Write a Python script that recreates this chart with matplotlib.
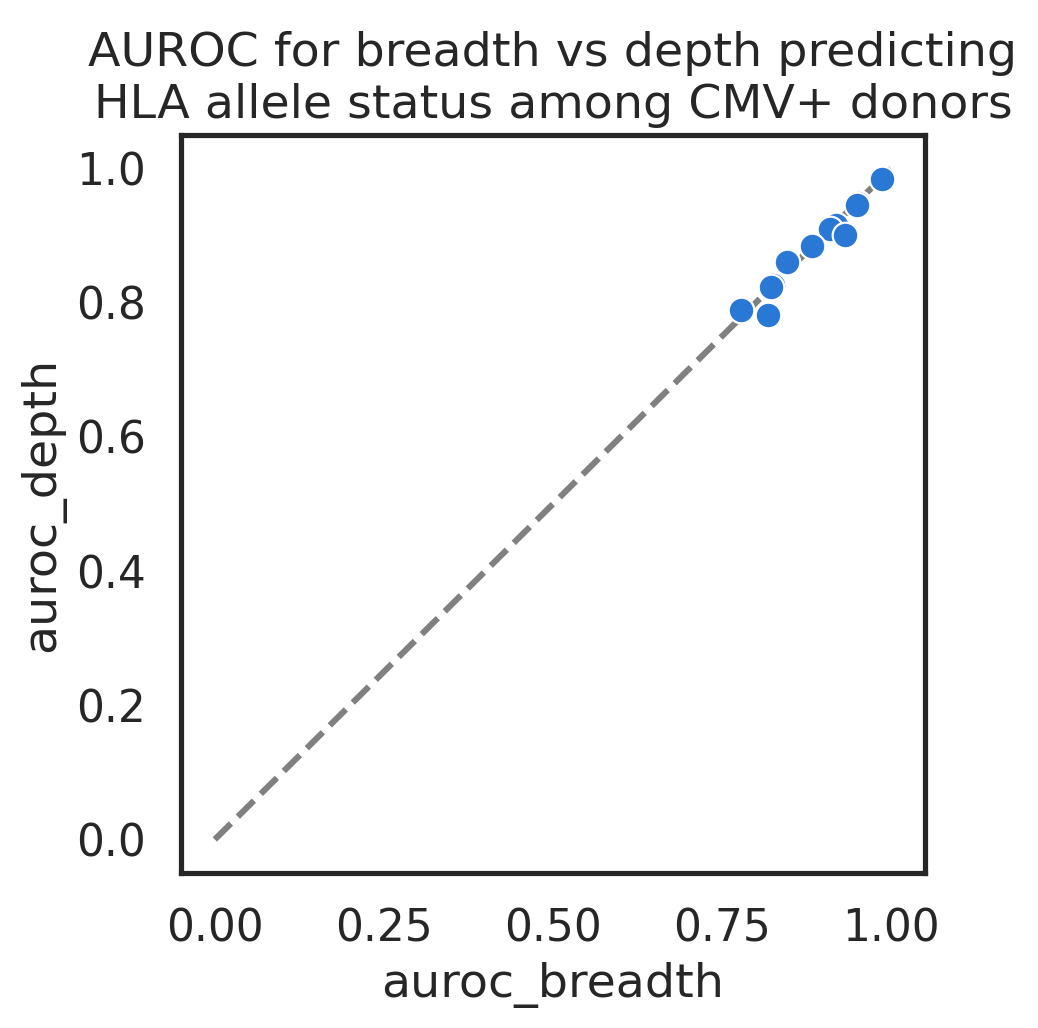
import matplotlib
matplotlib.use('Agg')
from matplotlib import pyplot as plt
import seaborn as sns
import pandas as pd

sns.set_theme(style='white', context='talk')

auroc_breadth = [0.986, 0.951, 0.949, 0.919, 0.910, 0.932, 0.883, 0.846, 0.825, 0.823, 0.778, 0.818]
auroc_depth = [0.984, 0.948, 0.946, 0.916, 0.910, 0.901, 0.885, 0.860, 0.826, 0.824, 0.789, 0.782]

df = pd.DataFrame({'auroc_breadth': auroc_breadth, 'auroc_depth': auroc_depth})

fig = plt.figure(figsize=(5.19, 5.14), dpi=200)
ax = fig.add_axes([0.1744, 0.1508, 0.7166, 0.7179])

ax.plot([0, 1], [0, 1], '--', color='gray', lw=2.2, zorder=1)
sns.scatterplot(data=df, x='auroc_breadth', y='auroc_depth', color='#2a78d6',
                s=85, edgecolor='white', linewidth=0.8, ax=ax, zorder=2)

ax.set_xlim(-0.05, 1.05)
ax.set_ylim(-0.05, 1.05)
ax.set_xticks([0, 0.25, 0.5, 0.75, 1.0])
ax.set_yticks([0, 0.2, 0.4, 0.6, 0.8, 1.0])
ax.tick_params(labelsize=15.8)
ax.set_xlabel('auroc_breadth', fontsize=17.1)
ax.set_ylabel('auroc_depth', fontsize=17.1)
ax.set_title('AUROC for breadth vs depth predicting\nHLA allele status among CMV+ donors', fontsize=17.1)
for s in ax.spines.values():
    s.set_color('#262626')

fig.savefig('out.png', dpi=200)
